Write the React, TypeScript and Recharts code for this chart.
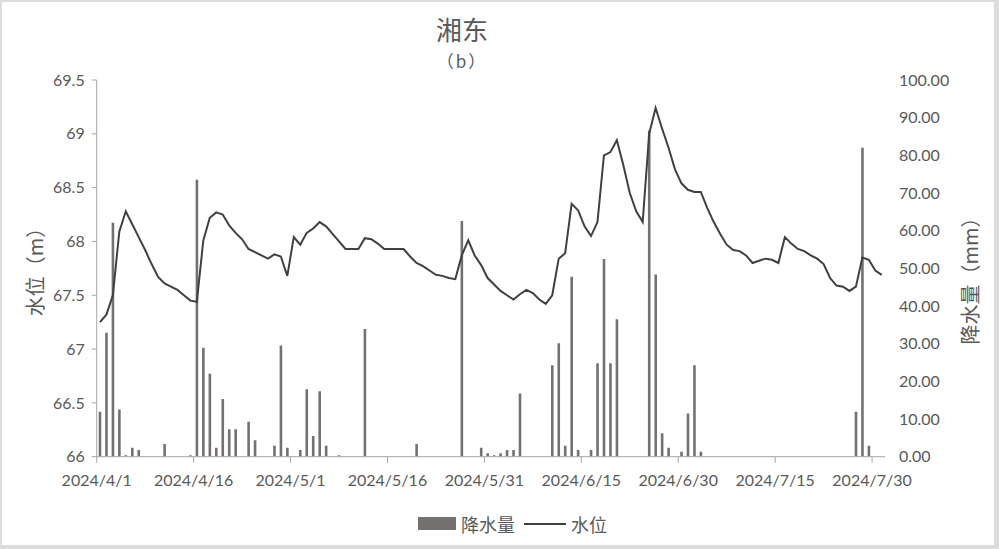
import React from 'react';
import { ComposedChart, Bar, Line, XAxis, YAxis } from 'recharts';

// 122 days: 2024/4/1 .. 2024/7/31
const monthLengths = [
  { m: 4, n: 30 },
  { m: 5, n: 31 },
  { m: 6, n: 30 },
  { m: 7, n: 31 },
];
const dates: string[] = [];
monthLengths.forEach(({ m, n }) => {
  for (let d = 1; d <= n; d++) dates.push(`2024/${m}/${d}`);
});

const tickDays = [0, 15, 30, 45, 60, 75, 90, 105, 120];
const tickLabels = ['2024/4/1', '2024/4/16', '2024/5/1', '2024/5/16', '2024/5/31', '2024/6/15', '2024/6/30', '2024/7/15', '2024/7/30'];

// 水位 (m)
const waterLevel = [
  67.25, 67.32, 67.5, 68.09, 68.28, 68.16, 68.04, 67.92, 67.79, 67.67,
  67.61, 67.58, 67.55, 67.5, 67.45, 67.44, 68.01, 68.22, 68.27, 68.25,
  68.15, 68.08, 68.02, 67.93, 67.9, 67.87, 67.84, 67.88, 67.86, 67.68,
  68.04, 67.97, 68.08, 68.12, 68.18, 68.14, 68.07, 68.0, 67.93, 67.93,
  67.93, 68.03, 68.02, 67.98, 67.93, 67.93, 67.93, 67.93, 67.86, 67.8,
  67.77, 67.73, 67.69, 67.68, 67.66, 67.65, 67.87, 68.01, 67.87, 67.78,
  67.66, 67.6, 67.54, 67.5, 67.46, 67.51, 67.55, 67.52, 67.46, 67.42,
  67.5, 67.84, 67.89, 68.35, 68.29, 68.14, 68.05, 68.18, 68.8, 68.83,
  68.94, 68.71, 68.45, 68.28, 68.18, 69.0, 69.24, 69.05, 68.87, 68.67,
  68.54, 68.48, 68.46, 68.46, 68.31, 68.18, 68.07, 67.97, 67.92, 67.91,
  67.87, 67.8, 67.82, 67.84, 67.83, 67.8, 68.04, 67.98, 67.93, 67.91,
  67.87, 67.84, 67.79, 67.66, 67.59, 67.58, 67.54, 67.58, 67.85, 67.83,
  67.73, 67.69,
];

// 降水量 (mm)
const rainfall = [
  11.9, 32.9, 62.1, 12.5, 0.4, 2.4, 1.8, 0, 0, 0,
  3.4, 0, 0, 0, 0.4, 73.5, 28.9, 22.0, 2.4, 15.3,
  7.3, 7.3, 0, 9.3, 4.4, 0, 0, 2.9, 29.5, 2.4,
  0, 1.8, 17.9, 5.5, 17.4, 2.9, 0, 0.4, 0, 0,
  0, 33.9, 0, 0, 0, 0, 0, 0, 0, 3.4,
  0, 0, 0, 0, 0, 0, 62.6, 0, 0, 2.4,
  0.9, 0.4, 0.9, 1.8, 1.8, 16.8, 0, 0, 0, 0,
  24.3, 30.1, 2.9, 47.8, 1.8, 0, 1.8, 24.8, 52.5, 24.8,
  36.5, 0, 0, 0, 0, 86.6, 48.4, 6.2, 2.4, 0,
  1.3, 11.5, 24.3, 1.3, 0, 0, 0, 0, 0, 0,
  0, 0, 0, 0, 0, 0, 0, 0, 0, 0,
  0, 0, 0, 0, 0, 0, 0, 11.9, 82.0, 2.9,
  0, 0,
];

const levelTicks = [66, 66.5, 67, 67.5, 68, 68.5, 69, 69.5];
const rainTicks = [0, 10, 20, 30, 40, 50, 60, 70, 80, 90, 100];

const data = dates.map((d, i) => ({
  x: i + 0.5,
  date: d,
  level: waterLevel[i],
  rain: rainfall[i],
}));

const TEXT = '#595959';
const AXIS = '#a6a6a6';
const BAR = '#767171';
const LINE = '#404040';
const NUM_FONT = 'Lato, "Noto Sans", sans-serif';
const CJK_FONT = '"Noto Sans CJK SC", "Noto Sans", sans-serif';

export default function App() {
  return (
    <div style={{ position: 'absolute', left: 0, top: 0, width: 999, height: 549, background: '#dcdcdc' }}>
      <div style={{ position: 'absolute', left: 2, top: 2, width: 992, height: 543, background: '#fff' }} />
      <div style={{ position: 'absolute', left: 0, top: 0 }}>
        <ComposedChart
          width={999}
          height={549}
          data={data}
          margin={{ top: 80, right: 0, bottom: 62.3, left: 0 }}
        >
          <XAxis
            xAxisId="x"
            dataKey="x"
            type="number"
            domain={[0, 122]}
            ticks={tickDays}
            allowDataOverflow
            tickFormatter={(t: number) => tickLabels[tickDays.indexOf(t)] ?? ''}
            stroke={AXIS}
            tickSize={6}
            tickMargin={12}
            height={30}
            interval={0}
            tick={{ fill: TEXT, fontSize: 16, fontFamily: NUM_FONT }}
          />
          <YAxis
            yAxisId="left"
            orientation="left"
            width={96.7}
            domain={[66, 69.5]}
            ticks={levelTicks}
            allowDataOverflow
            interval={0}
            stroke={AXIS}
            tickSize={5}
            tickMargin={7}
            tick={{ fill: TEXT, fontSize: 16, fontFamily: NUM_FONT }}
          />
          <YAxis
            yAxisId="right"
            orientation="right"
            width={114}
            domain={[0, 100]}
            ticks={rainTicks}
            allowDataOverflow
            interval={0}
            axisLine={false}
            tickLine={false}
            tickSize={0}
            tickMargin={14}
            tickFormatter={(v: number) => v.toFixed(2)}
            tick={{ fill: TEXT, fontSize: 16, fontFamily: NUM_FONT, textAnchor: 'start' }}
          />
          <Bar
            xAxisId="x"
            yAxisId="right"
            dataKey="rain"
            fill={BAR}
            barSize={2.6}
            isAnimationActive={false}
          />
          <Line
            xAxisId="x"
            yAxisId="left"
            dataKey="level"
            type="linear"
            stroke={LINE}
            strokeWidth={2}
            dot={false}
            activeDot={false}
            isAnimationActive={false}
          />
        </ComposedChart>
      </div>

      {/* Title */}
      <div style={{ position: 'absolute', left: 462, top: 15, transform: 'translateX(-50%)', fontFamily: CJK_FONT, fontSize: 26, lineHeight: '28px', color: TEXT, whiteSpace: 'nowrap' }}>
        湘东
      </div>
      <div style={{ position: 'absolute', left: 462, top: 50, transform: 'translateX(-50%)', fontFamily: CJK_FONT, fontSize: 17, lineHeight: '22px', color: TEXT, whiteSpace: 'nowrap', letterSpacing: 2 }}>
        （b）
      </div>

      {/* Axis titles */}
      <div style={{ position: 'absolute', left: 35, top: 267, transform: 'translate(-50%, -50%) rotate(-90deg)', fontFamily: CJK_FONT, fontSize: 20, lineHeight: '24px', color: TEXT, whiteSpace: 'nowrap' }}>
        水位（m）
      </div>
      <div style={{ position: 'absolute', left: 970, top: 276, transform: 'translate(-50%, -50%) rotate(-90deg)', fontFamily: CJK_FONT, fontSize: 20, lineHeight: '24px', color: TEXT, whiteSpace: 'nowrap' }}>
        降水量（mm）
      </div>

      {/* Legend */}
      <div style={{ position: 'absolute', left: 418, top: 517, width: 38, height: 13, background: BAR }} />
      <div style={{ position: 'absolute', left: 461, top: 512, fontFamily: CJK_FONT, fontSize: 18, lineHeight: '24px', color: TEXT, whiteSpace: 'nowrap' }}>
        降水量
      </div>
      <div style={{ position: 'absolute', left: 524, top: 523, width: 42, height: 2, background: LINE }} />
      <div style={{ position: 'absolute', left: 571, top: 512, fontFamily: CJK_FONT, fontSize: 18, lineHeight: '24px', color: TEXT, whiteSpace: 'nowrap' }}>
        水位
      </div>
    </div>
  );
}
